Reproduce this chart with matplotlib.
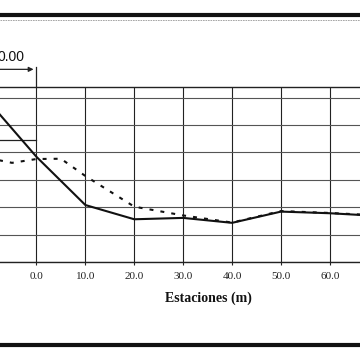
import matplotlib.pyplot as plt
from matplotlib.lines import Line2D

# perfil: rasante (linea continua) y terreno natural (linea de trazos)
stations_rasante = [-10.0, 0.0, 10.0, 20.0, 30.0, 40.0, 50.0, 60.0, 70.0]
elev_rasante = [5.90, 3.84, 2.08, 1.56, 1.61, 1.43, 1.84, 1.78, 1.68]

stations_terreno = [-10.0, -5.0, 0.0, 5.0, 10.0, 20.0, 30.0, 40.0, 50.0, 60.0, 70.0]
elev_terreno = [3.80, 3.62, 3.76, 3.77, 3.14, 2.02, 1.70, 1.44, 1.86, 1.79, 1.70]

ref_stations = [-10.0, 0.0]
ref_level = [4.45, 4.45]

xticks = [0.0, 10.0, 20.0, 30.0, 40.0, 50.0, 60.0]
xtick_labels = ["0.0", "10.0", "20.0", "30.0", "40.0", "50.0", "60.0"]
yticks = [0, 1, 2, 3, 4, 5, 6]

fig = plt.figure(figsize=(3.6, 3.6), dpi=100)
fig.patch.set_facecolor('white')

# axes extends past the left edge (cropped scan)
ax = fig.add_axes([0.0, 1 - 262 / 360, 1.0, 175.3 / 360])

ax.plot(stations_rasante, elev_rasante, color='#111111', lw=1.5, zorder=3)
ax.plot(stations_terreno, elev_terreno, color='#111111', lw=1.5,
        linestyle=(0, (1.9, 3.4)), zorder=3)
ax.plot(ref_stations, ref_level, color='#222222', lw=0.9, zorder=2)

ax.set_xticks(xticks)
ax.set_xticklabels(xtick_labels, fontsize=8, family='Liberation Serif', color='#222222')
ax.set_yticks(yticks)
ax.set_xlim(-7.46, 66.16)
ax.set_ylim(0, 6.4)
ax.tick_params(axis='x', length=2.2, width=0.8, pad=5, color='#222222')
ax.tick_params(axis='y', left=False, labelleft=False)

ax.grid(axis='x', color='#222222', lw=0.8)
ax.grid(axis='y', color='#555555', lw=0.8)
ax.set_axisbelow(True)

ax.spines['left'].set_visible(False)
ax.spines['right'].set_visible(False)
ax.spines['top'].set_color('#222222')
ax.spines['bottom'].set_color('#222222')
ax.spines['top'].set_linewidth(1.0)
ax.spines['bottom'].set_linewidth(1.0)

# marca de la estacion 0 sobre el grafico
trans = ax.get_xaxis_transform()
ax.plot([0.0, 0.0], [1.0, 1.114], transform=trans, color='#222222', lw=0.9, clip_on=False)
ax.annotate('', xy=(-0.6, 1.099), xycoords=trans, xytext=(-9.0, 1.099), textcoords=trans,
            arrowprops=dict(arrowstyle='-|>', color='#222222', lw=0.9,
                            mutation_scale=7, shrinkA=0, shrinkB=0))
fig.text(25 / 360, 1 - 57 / 360, "0.00", ha='right', va='center',
         fontsize=10, family='Liberation Sans', color='#111111')

fig.text(208 / 360, 1 - 298 / 360, "Estaciones (m)", ha='center', va='center',
         fontsize=10, family='Liberation Serif', fontweight='bold', color='#111111')

# bordes de la pagina escaneada
fig.add_artist(Line2D([0, 1], [1 - 15 / 360, 1 - 15 / 360], transform=fig.transFigure,
                      color='#111111', lw=3.0))
fig.add_artist(Line2D([0, 1], [1 - 19.5 / 360, 1 - 19.5 / 360], transform=fig.transFigure,
                      color='#999999', lw=0.6, linestyle=(0, (2, 1))))
fig.add_artist(Line2D([0, 1], [1 - 344.5 / 360, 1 - 344.5 / 360], transform=fig.transFigure,
                      color='#111111', lw=3.0))

plt.savefig('out.png', dpi=100, facecolor='white')
